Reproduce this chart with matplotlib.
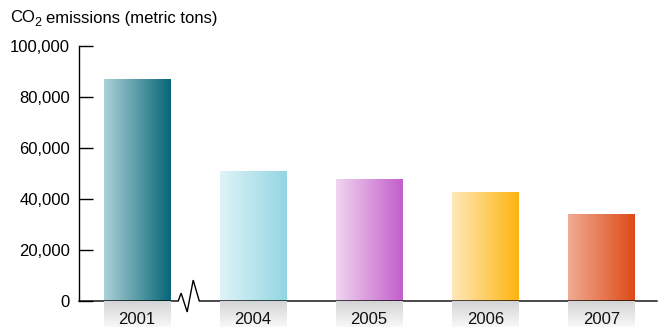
import numpy as np
import matplotlib
matplotlib.use("Agg")
import matplotlib.pyplot as plt
from matplotlib.colors import LinearSegmentedColormap
from matplotlib.ticker import FuncFormatter

plt.rcParams["font.family"] = ["Liberation Sans", "DejaVu Sans"]

# Data
years = ["2001", "2004", "2005", "2006", "2007"]
emissions = [86700, 50600, 47500, 42700, 34100]
bar_colors = [
    ("#aed0d8", "#066677"),
    ("#e0f3f8", "#92d6e3"),
    ("#f1d5f0", "#c35ecb"),
    ("#fee9bb", "#ffb40f"),
    ("#f0ab93", "#de4a16"),
]
y_ticks = [0, 20000, 40000, 60000, 80000, 100000]

W, H = 659, 327
fig = plt.figure(figsize=(W / 100, H / 100), dpi=100)

ax_left, ax_right = 79 / W, 657 / W
ax_bottom, ax_top = 26 / H, 281 / H
ax = fig.add_axes([ax_left, ax_bottom, ax_right - ax_left, ax_top - ax_bottom])

x = np.arange(len(years))
bar_w = 0.57
xmin, xmax = -0.5, 4.48

# gradient bars
grad = np.linspace(0, 1, 256).reshape(1, -1)
for xi, val, (c0, c1) in zip(x, emissions, bar_colors):
    cmap = LinearSegmentedColormap.from_list("g", [c0, c1])
    ax.imshow(grad, cmap=cmap, aspect="auto",
              extent=(xi - bar_w / 2, xi + bar_w / 2, 0, val),
              interpolation="bilinear", zorder=2)

ax.set_xlim(xmin, xmax)
ax.set_ylim(0, 100000)

# axes styling
for s in ["top", "right", "bottom"]:
    ax.spines[s].set_visible(False)
ax.spines["left"].set_linewidth(1.0)
ax.spines["left"].set_color("black")
ax.set_xticks([])
ax.set_yticks(y_ticks)
ax.yaxis.set_major_formatter(FuncFormatter(lambda v, p: f"{int(v):,}"))
ax.tick_params(axis="y", direction="in", length=10, width=1.0, pad=6.5,
               labelsize=12, colors="black")

# baseline with axis break
zx = [-0.5, 0.355, 0.38, 0.432, 0.484, 0.536, 4.48]
zy = [0, 0, 3100, -4300, 8200, 0, 0]
ax.plot(zx, zy, color="black", lw=1.0, clip_on=False, zorder=5,
        solid_joinstyle="miter")

# category label strip
ax2 = fig.add_axes([ax_left, 0, ax_right - ax_left, 26 / H])
vgrad = np.linspace(0, 1, 64).reshape(-1, 1)
gray = LinearSegmentedColormap.from_list("gr", ["#d3d4d5", "#f8f8f8"])
for xi, yr in zip(x, years):
    ax2.imshow(vgrad, cmap=gray, aspect="auto", origin="upper",
               extent=(xi - bar_w / 2, xi + bar_w / 2, 0, 1),
               interpolation="bilinear")
    ax2.text(xi, 0.30, yr, ha="center", va="center", fontsize=12,
             color="#111111")
ax2.set_xlim(xmin, xmax)
ax2.set_ylim(0, 1)
ax2.axis("off")

# title with subscript
t1 = fig.text(10 / W, 1 - 18 / H, "CO", ha="left", va="center", fontsize=12)
fig.canvas.draw()
bb = t1.get_window_extent()
t2 = fig.text((bb.x1 - 1) / W, 1 - 23 / H, "2", ha="left", va="center",
              fontsize=9)
fig.canvas.draw()
bb2 = t2.get_window_extent()
fig.text((bb2.x1 + 5) / W, 1 - 18 / H, "emissions (metric tons)",
         ha="left", va="center", fontsize=12)

fig.savefig("out.png", dpi=100)
